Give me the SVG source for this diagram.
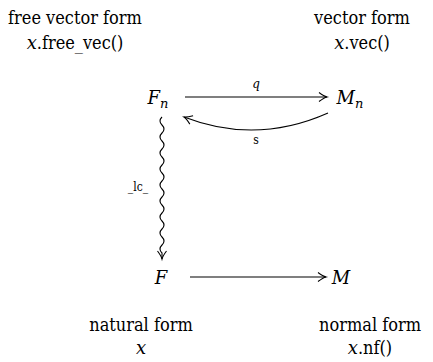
<svg xmlns="http://www.w3.org/2000/svg" width="433" height="362" viewBox="0 0 433 362">
<style>
text{font-size:18px;fill:#000;text-anchor:middle;font-family:"DejaVu Serif Condensed","DejaVu Serif",serif;font-stretch:condensed}
.i{font-style:italic;font-family:"DejaVu Serif",serif;font-stretch:normal}
.s{font-size:13px}
.sm{font-size:12px}
.e{fill:none;stroke:#000;stroke-width:1.1}
</style>
<defs>
<marker id="ah" markerWidth="12" markerHeight="12" refX="0" refY="0" viewBox="-9 -6 11 12" orient="auto" markerUnits="userSpaceOnUse">
<path d="M-8,-4.5 Q-3,-0.8 0,0 Q-3,0.8 -8,4.5" fill="none" stroke="#000" stroke-width="1.1"/>
</marker>
</defs>
<g id="labels">
<text x="75" y="24">free vector form</text>
<text x="75" y="49"><tspan class="i">x</tspan>.free_vec()</text>
<text x="362" y="24">vector form</text>
<text x="362" y="49"><tspan class="i">x</tspan>.vec()</text>
<text x="141" y="331">natural form</text>
<text x="141" y="354" class="i">x</text>
<text x="370" y="331">normal form</text>
<text x="370" y="354"><tspan class="i">x</tspan>.nf()</text>
</g>
<g id="Fn"><text x="158" y="104" class="i">F<tspan class="s" dy="4">n</tspan></text></g>
<g id="Mn"><text x="350" y="104" class="i">M<tspan class="s" dy="4">n</tspan></text></g>
<g id="F"><text x="161" y="284" class="i">F</text></g>
<g id="M"><text x="341" y="284" class="i">M</text></g>
<g id="connectors">
<path class="e" d="M185,97 H327" marker-end="url(#ah)"/>
<text x="256" y="88" class="i sm">q</text>
<path class="e" d="M328,113 Q256,145 184,117" marker-end="url(#ah)"/>
<text x="256" y="144" class="sm">s</text>
<path class="e" d="M162,117 q-4,4 0,8 q4,4 0,8 q-4,4 0,8 q4,4 0,8 q-4,4 0,8 q4,4 0,8 q-4,4 0,8 q4,4 0,8 q-4,4 0,8 q4,4 0,8 q-4,4 0,8 q4,4 0,8 q-4,4 0,8 q4,4 0,8 q-4,4 0,8 q4,4 0,8 q-4,4 0,8 l0,6" marker-end="url(#ah)"/>
<text x="138" y="191" class="sm">_lc_</text>
<path class="e" d="M190,277 H326" marker-end="url(#ah)"/>
</g>
</svg>
